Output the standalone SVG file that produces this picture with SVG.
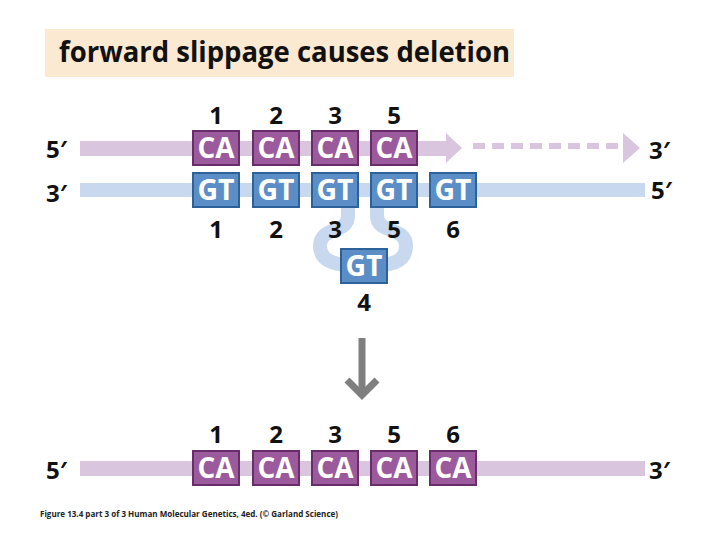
<svg xmlns="http://www.w3.org/2000/svg" width="720" height="540" viewBox="0 0 720 540">
<style>
.t{font-family:"Open Sans","Liberation Sans",sans-serif;font-weight:bold;}
.num{font-family:"Open Sans","Liberation Sans",sans-serif;font-weight:bold;font-size:24px;fill:#111;text-anchor:middle;}
.end{font-family:"Open Sans","DejaVu Sans",sans-serif;font-weight:bold;font-size:24px;fill:#111;}
.caBox{fill:#9a5a9c;stroke:#6a2d6c;stroke-width:2;}
.gtBox{fill:#5b8ec6;stroke:#2c6199;stroke-width:2;}
.lbl{font-family:"Open Sans","Liberation Sans",sans-serif;font-weight:bold;font-size:28px;fill:#fff;text-anchor:middle;}
.pband{fill:#d9c6de;}
.bband{fill:#c8d8ee;}
</style>
<defs>
<g id="ca"><rect class="caBox" x="-23" y="-17" width="46" height="34" fill="#9a5a9c" stroke="#6a2d6c" stroke-width="2"/><text class="lbl" x="0" y="10" fill="#fff" textLength="37" lengthAdjust="spacingAndGlyphs">CA</text></g>
<g id="gt"><rect class="gtBox" x="-23" y="-17" width="46" height="34" fill="#5b8ec6" stroke="#2c6199" stroke-width="2"/><text class="lbl" x="0" y="10" fill="#fff" textLength="37" lengthAdjust="spacingAndGlyphs">GT</text></g>
</defs>
<rect width="720" height="540" fill="#fff"/>
<g id="title">
<rect x="45" y="29" width="469" height="48" fill="#fce9d2"/>
<text class="t" x="59" y="62" font-size="28" fill="#111" textLength="451" lengthAdjust="spacingAndGlyphs">forward slippage causes deletion</text>
</g>
<g id="connectors">
<rect class="pband" x="80" y="141" width="368" height="15"/>
<polygon class="pband" points="446,133 462,148 446,163"/>
<line x1="473" y1="146" x2="622" y2="146" stroke="#d9c6de" stroke-width="6" stroke-dasharray="12,7"/>
<polygon class="pband" points="623,133 640,148 623,163"/>
<rect class="bband" x="80" y="183" width="565" height="14"/>
<path d="M348 200 L348 216 C348 234 320 226 320 246 C320 262 336 266 364 266 C392 266 406 262 406 246 C406 226 377 234 377 216 L377 200" fill="none" stroke="#c8d8ee" stroke-width="14"/>
<line x1="362" y1="338" x2="362" y2="394" stroke="#7f7f7f" stroke-width="7"/>
<polyline points="347,380 362,395 377,380" fill="none" stroke="#7f7f7f" stroke-width="7" stroke-linejoin="miter"/>
<rect class="pband" x="80" y="461" width="565" height="15"/>
</g>
<g id="ends">
<text class="end" x="46" y="158">5′</text>
<text class="end" x="46" y="202">3′</text>
<text class="end" x="649" y="159">3′</text>
<text class="end" x="651" y="199">5′</text>
<text class="end" x="46" y="479">5′</text>
<text class="end" x="649" y="479">3′</text>
</g>
<g id="top-strand">
<use href="#ca" x="216" y="148"/><use href="#ca" x="276" y="148"/><use href="#ca" x="335" y="148"/><use href="#ca" x="394" y="148"/>
<text class="num" x="216" y="124">1</text><text class="num" x="276" y="124">2</text><text class="num" x="335" y="124">3</text><text class="num" x="394" y="124">5</text>
</g>
<g id="template-strand">
<use href="#gt" x="216" y="190"/><use href="#gt" x="276" y="190"/><use href="#gt" x="335" y="190"/><use href="#gt" x="394" y="190"/><use href="#gt" x="453" y="190"/>
<text class="num" x="216" y="238">1</text><text class="num" x="276" y="238">2</text><text class="num" x="335" y="238">3</text><text class="num" x="394" y="238">5</text><text class="num" x="453" y="238">6</text>
</g>
<g id="loop">
<use href="#gt" x="364" y="266"/>
<text class="num" x="364" y="311">4</text>
</g>
<g id="product-strand">
<use href="#ca" x="216" y="468"/><use href="#ca" x="276" y="468"/><use href="#ca" x="335" y="468"/><use href="#ca" x="394" y="468"/><use href="#ca" x="453" y="468"/>
<text class="num" x="216" y="443">1</text><text class="num" x="276" y="443">2</text><text class="num" x="335" y="443">3</text><text class="num" x="394" y="443">5</text><text class="num" x="453" y="443">6</text>
</g>
<g id="caption">
<text x="40" y="517" font-family="Open Sans, Liberation Sans, sans-serif" font-weight="bold" font-size="8" fill="#222" textLength="298" lengthAdjust="spacingAndGlyphs">Figure 13.4 part 3 of 3  Human Molecular Genetics, 4ed. (© Garland Science)</text>
</g>
</svg>
